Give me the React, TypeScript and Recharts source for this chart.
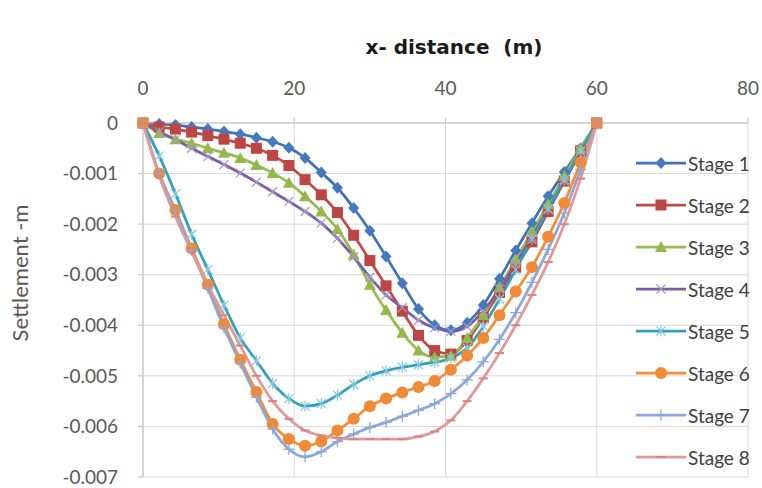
import React from "react";
import { LineChart, Line, XAxis, YAxis, CartesianGrid } from "recharts";

// distance along the section (m)
const xDistance = [
  0, 2.14, 4.29, 6.43, 8.57, 10.71, 12.86, 15, 17.14, 19.29, 21.43, 23.57, 25.71, 27.86, 30,
  32.14, 34.29, 36.43, 38.57, 40.71, 42.86, 45, 47.14, 49.29, 51.43, 53.57, 55.71, 57.86, 60,
];

// settlement (m) for each construction stage
const stage1 = [
  0, -0.00002, -0.00004, -0.00008, -0.00012, -0.00017, -0.00022, -0.00029, -0.00037, -0.00049,
  -0.00069, -0.00098, -0.00128, -0.00168, -0.00213, -0.00264, -0.00317, -0.00368, -0.004, -0.0041,
  -0.00395, -0.0036, -0.00308, -0.00252, -0.00198, -0.00145, -0.00097, -0.0005, 0,
];
const stage2 = [
  0, -0.00008, -0.00012, -0.00018, -0.00025, -0.00032, -0.0004, -0.0005, -0.00064, -0.00084,
  -0.00112, -0.00142, -0.00177, -0.00222, -0.00272, -0.00322, -0.00372, -0.0042, -0.0045, -0.00457,
  -0.0043, -0.00385, -0.00335, -0.00285, -0.00235, -0.00175, -0.00115, -0.00055, 0,
];
const stage3 = [
  0, -0.0002, -0.00032, -0.0004, -0.0005, -0.00059, -0.00069, -0.00083, -0.00099, -0.00118,
  -0.00145, -0.00175, -0.0021, -0.0026, -0.0032, -0.0037, -0.00415, -0.0045, -0.00463, -0.0046,
  -0.00425, -0.0038, -0.00325, -0.0027, -0.00215, -0.0016, -0.00105, -0.0005, 0,
];
const stage4 = [
  0, -0.00017, -0.00033, -0.0005, -0.00066, -0.00082, -0.00099, -0.00117, -0.00136, -0.00155,
  -0.00175, -0.00198, -0.00228, -0.00265, -0.00305, -0.0034, -0.00365, -0.0039, -0.00405, -0.00412,
  -0.00402, -0.00372, -0.00328, -0.00278, -0.00225, -0.0017, -0.00115, -0.00057, 0,
];
const stage5 = [
  0, -0.00065, -0.0014, -0.0022, -0.0029, -0.0036, -0.00425, -0.0047, -0.00515, -0.00545,
  -0.0056, -0.00555, -0.00538, -0.00517, -0.005, -0.0049, -0.00483, -0.00478, -0.00473, -0.00465,
  -0.00445, -0.00402, -0.00348, -0.0029, -0.0023, -0.0017, -0.00112, -0.00055, 0,
];
const stage6 = [
  0, -0.001, -0.00172, -0.00248, -0.0032, -0.00398, -0.00468, -0.00532, -0.00595, -0.00625,
  -0.00638, -0.0063, -0.00608, -0.00585, -0.0056, -0.00545, -0.00533, -0.00522, -0.0051, -0.00488,
  -0.0046, -0.00425, -0.0038, -0.00333, -0.00285, -0.00225, -0.00158, -0.00078, 0,
];
const stage7 = [
  0, -0.001, -0.00175, -0.00252, -0.00327, -0.00405, -0.00475, -0.00542, -0.00605, -0.00645,
  -0.0066, -0.0065, -0.0063, -0.00615, -0.00602, -0.00592, -0.0058, -0.00568, -0.00555, -0.00535,
  -0.00508, -0.00472, -0.00428, -0.00375, -0.00315, -0.0025, -0.00178, -0.00092, 0,
];
const stage8 = [
  0, -0.00105, -0.00185, -0.00255, -0.0032, -0.0038, -0.0044, -0.005, -0.0055, -0.00585,
  -0.00608, -0.00618, -0.00623, -0.00625, -0.00625, -0.00625, -0.00625, -0.0062, -0.0061, -0.00588,
  -0.0055, -0.00505, -0.00455, -0.004, -0.0034, -0.00275, -0.002, -0.0011, 0,
];

const xTicks = [0, 20, 40, 60, 80];
const yTicks = [0, -0.001, -0.002, -0.003, -0.004, -0.005, -0.006, -0.007];

const data = xDistance.map((x, i) => ({
  x,
  s1: stage1[i],
  s2: stage2[i],
  s3: stage3[i],
  s4: stage4[i],
  s5: stage5[i],
  s6: stage6[i],
  s7: stage7[i],
  s8: stage8[i],
}));

const FONT = "Lato, 'Open Sans', sans-serif";

type Shape = "diamond" | "square" | "triangle" | "x" | "star" | "circle" | "plus" | "dash";

const series: { key: string; name: string; color: string; marker: string; shape: Shape }[] = [
  { key: "s1", name: "Stage 1", color: "#3f72b6", marker: "#4678bc", shape: "diamond" },
  { key: "s2", name: "Stage 2", color: "#be4b48", marker: "#bc4643", shape: "square" },
  { key: "s3", name: "Stage 3", color: "#98b954", marker: "#93b84c", shape: "triangle" },
  { key: "s4", name: "Stage 4", color: "#7b5e9f", marker: "#a996c9", shape: "x" },
  { key: "s5", name: "Stage 5", color: "#33a0ba", marker: "#84c9dd", shape: "star" },
  { key: "s6", name: "Stage 6", color: "#f28d3c", marker: "#f08a36", shape: "circle" },
  { key: "s7", name: "Stage 7", color: "#8ea7d9", marker: "#8ea7d9", shape: "plus" },
  { key: "s8", name: "Stage 8", color: "#e0999a", marker: "#d98384", shape: "dash" },
];

function drawMarker(shape: Shape, color: string, cx: number, cy: number) {
  switch (shape) {
    case "diamond":
      return <polygon points={`${cx},${cy - 6} ${cx + 5.5},${cy} ${cx},${cy + 6} ${cx - 5.5},${cy}`} fill={color} />;
    case "square":
      return <rect x={cx - 5.5} y={cy - 5.5} width={11} height={11} fill={color} />;
    case "triangle":
      return <polygon points={`${cx},${cy - 6} ${cx + 6},${cy + 5} ${cx - 6},${cy + 5}`} fill={color} />;
    case "circle":
      return <circle cx={cx} cy={cy} r={6} fill={color} />;
    case "x":
      return (
        <g stroke={color} strokeWidth={1.2}>
          <line x1={cx - 4.5} y1={cy - 4.5} x2={cx + 4.5} y2={cy + 4.5} />
          <line x1={cx - 4.5} y1={cy + 4.5} x2={cx + 4.5} y2={cy - 4.5} />
        </g>
      );
    case "star":
      return (
        <g stroke={color} strokeWidth={1.2}>
          <line x1={cx - 4.5} y1={cy - 4.5} x2={cx + 4.5} y2={cy + 4.5} />
          <line x1={cx - 4.5} y1={cy + 4.5} x2={cx + 4.5} y2={cy - 4.5} />
          <line x1={cx} y1={cy - 5.5} x2={cx} y2={cy + 5.5} />
        </g>
      );
    case "plus":
      return (
        <g stroke={color} strokeWidth={1.3}>
          <line x1={cx - 5.5} y1={cy} x2={cx + 5.5} y2={cy} />
          <line x1={cx} y1={cy - 5.5} x2={cx} y2={cy + 5.5} />
        </g>
      );
    case "dash":
      return <line x1={cx - 4.5} y1={cy} x2={cx + 4.5} y2={cy} stroke={color} strokeWidth={2} />;
  }
}

const makeDot = (shape: Shape, color: string) => (props: any) => {
  const { cx, cy, index } = props;
  if (cx == null || cy == null) return <g key={`${shape}-${index}`} />;
  return <g key={`${shape}-${index}`}>{drawMarker(shape, color, cx, cy)}</g>;
};

const yTitle = () => (
  <text
    x={22}
    y={273}
    transform="rotate(-90 22 273)"
    textAnchor="middle"
    dominantBaseline="middle"
    fill="#595959"
    fontSize={22}
    fontFamily={FONT}
  >
    Settlement -m
  </text>
);

export default function App() {
  return (
    <div style={{ position: "absolute", left: 0, top: 0, width: 762, height: 488, background: "#fff" }}>
      <div
        style={{
          position: "absolute",
          left: 334,
          top: 35,
          width: 240,
          textAlign: "center",
          fontFamily: "'DejaVu Sans', sans-serif",
          fontWeight: 700,
          fontSize: 20,
          lineHeight: "24px",
          color: "#1a1a1a",
          whiteSpace: "pre",
        }}
      >
        {"x- distance  (m)"}
      </div>
      <LineChart width={762} height={488} data={data} margin={{ top: 93, right: 14, bottom: 11, left: 0 }}>
        <CartesianGrid stroke="#d9d9d9" strokeWidth={1} />
        <XAxis
          type="number"
          dataKey="x"
          orientation="top"
          domain={[0, 80]}
          ticks={xTicks}
          height={30}
          stroke="#bfbfbf"
          tickSize={5}
          tickMargin={23}
          tick={{ fill: "#595959", fontSize: 19, fontFamily: FONT }}
        />
        <YAxis
          type="number"
          domain={[-0.007, 0]}
          ticks={yTicks}
          width={143}
          stroke="#bfbfbf"
          tickSize={5}
          tickMargin={20}
          tick={{ fill: "#595959", fontSize: 19, fontFamily: FONT }}
          tickFormatter={(v: number) => (v === 0 ? "0" : v.toFixed(3))}
          label={{ content: yTitle }}
        />
        {series.map((s) => (
          <Line
            key={s.key}
            type="monotone"
            dataKey={s.key}
            name={s.name}
            stroke={s.color}
            strokeWidth={2.75}
            dot={makeDot(s.shape, s.marker)}
            activeDot={false}
            isAnimationActive={false}
          />
        ))}
      </LineChart>
      <div
        style={{
          position: "absolute",
          left: 635,
          top: 142,
          width: 127,
          fontFamily: FONT,
          fontSize: 19,
          color: "#404040",
        }}
      >
        {series.map((s) => (
          <div key={s.key} style={{ display: "flex", alignItems: "center", height: 42 }}>
            <svg width={52} height={16} style={{ display: "block" }}>
              <line x1={1} y1={8} x2={51} y2={8} stroke={s.color} strokeWidth={2.75} />
              {drawMarker(s.shape, s.marker, 26, 8)}
            </svg>
            <span style={{ marginLeft: 1, whiteSpace: "nowrap" }}>{s.name}</span>
          </div>
        ))}
      </div>
    </div>
  );
}
